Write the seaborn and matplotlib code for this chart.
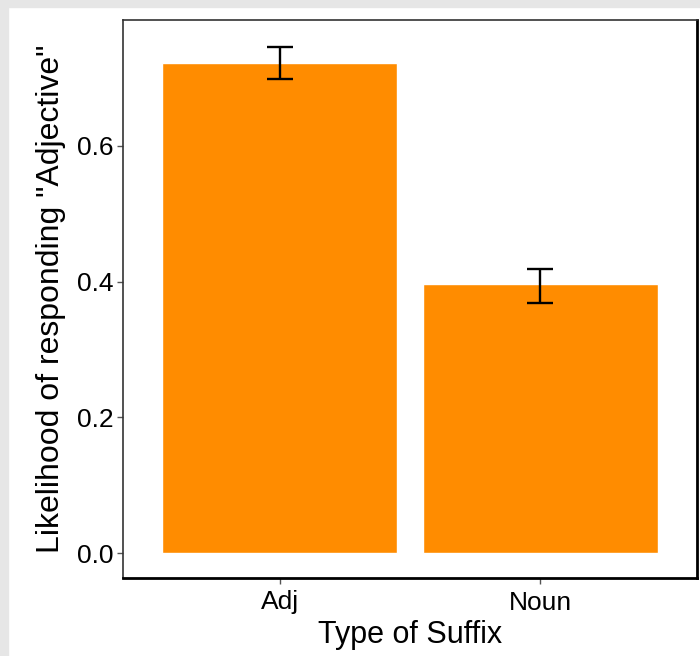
import matplotlib
matplotlib.use("Agg")
import matplotlib.pyplot as plt
import seaborn as sns
import numpy as np
import pandas as pd
from matplotlib.patches import Rectangle

categories = ["Adj", "Noun"]
means = [0.722, 0.396]
ci_low = [0.699, 0.369]
ci_high = [0.746, 0.419]
yticks = [0.0, 0.2, 0.4, 0.6]
ytick_labels = ["0.0", "0.2", "0.4", "0.6"]

sns.set_style("white")
plt.rcParams['font.family'] = ['Liberation Sans', 'DejaVu Sans']

fig = plt.figure(figsize=(7.0, 6.56), dpi=100)
fig.patch.set_facecolor("white")
# grey frame at left/top
fig.patches.append(Rectangle((0, 0), 8/700, 1, transform=fig.transFigure, color="#e6e6e6", zorder=0))
fig.patches.append(Rectangle((0, 1 - 7/656), 1, 7/656, transform=fig.transFigure, color="#e6e6e6", zorder=0))

ax = fig.add_axes([123/700, (656-578)/656, (697-123)/700, (578-20)/656])
df = pd.DataFrame({"Suffix": categories, "Mean": means})
sns.barplot(data=df, x="Suffix", y="Mean", color="#FF8C00", saturation=1, width=0.9, ax=ax, errorbar=None)

yerr = np.array([np.array(means) - np.array(ci_low), np.array(ci_high) - np.array(means)])
ax.errorbar(np.arange(len(categories)), means, yerr=yerr, fmt="none", ecolor="black",
            elinewidth=1.7, capsize=9.5, capthick=1.7, zorder=5)

ax.set_xlim(-0.6, 1.6)
ax.set_ylim(-0.0368, 0.7856)
ax.set_yticks(yticks)
ax.set_yticklabels(ytick_labels)
ax.set_xlabel("Type of Suffix", fontsize=22, color="black", labelpad=4)
ax.tick_params(axis="both", labelsize=19, labelcolor="black", length=4, width=1, color="#555555",
               bottom=True, left=True, pad=3)
ax.tick_params(axis="x", pad=5)
ax.set_ylabel('Likelihood of responding "Adjective"', fontsize=23, color="black", labelpad=8)
for s in ["top", "left"]:
    ax.spines[s].set_color("#333333")
    ax.spines[s].set_linewidth(1.2)
for s in ["bottom", "right"]:
    ax.spines[s].set_color("black")
    ax.spines[s].set_linewidth(2)

fig.savefig("out.png", dpi=100)
